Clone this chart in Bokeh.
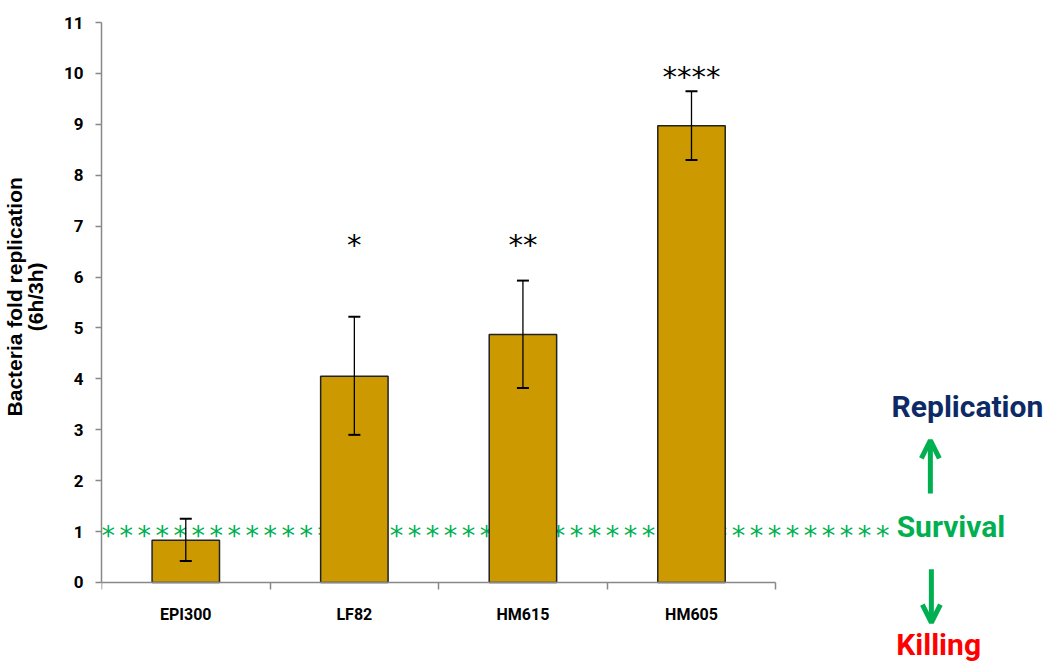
from bokeh.plotting import figure
from bokeh.models import (ColumnDataSource, Range1d, FixedTicker, Whisker, TeeHead,
                          Label, Arrow, OpenHead)
from bokeh.core.properties import value
from bokeh.embed import file_html
from bokeh.resources import INLINE

# ---- data ----
categories = ["EPI300", "LF82", "HM615", "HM605"]
fold_mean = [0.83, 4.05, 4.87, 8.97]
err_low = [0.42, 2.90, 3.82, 8.30]
err_high = [1.25, 5.22, 5.93, 9.65]
significance = ["", "*", "**", "****"]
sig_level = [0.0, 6.72, 6.72, 10.02]
y_ticks = list(range(0, 12))
survival_level = 1.0
n_survival_stars = 44

xs = [i + 0.5 for i in range(len(categories))]
src = ColumnDataSource(dict(x=xs, top=fold_mean, lower=err_low, upper=err_high,
                            sig=significance, sy=sig_level))

W, H = 1046, 664
p = figure(width=W, height=H, output_backend="svg", toolbar_location=None,
           x_range=Range1d(0, (W - 100) / 168.75),
           y_range=Range1d(-(H - 582) / 50.9, 11),
           min_border_left=100, min_border_top=22, min_border_bottom=0,
           min_border_right=0)
p.outline_line_color = None
p.xgrid.visible = False
p.ygrid.visible = False
p.background_fill_color = "white"
p.border_fill_color = "white"

# survival reference line (asterisks), drawn behind the bars
p.text(x=[0.0], y=[survival_level],
       text=["\u2006".join(["*"] * n_survival_stars)], text_align="left",
       text_baseline="alphabetic", text_font=value("DejaVu Sans"),
       text_font_size="27px", text_color="#00b050", y_offset=4)

# bars
p.vbar(x="x", top="top", width=0.4, source=src, fill_color="#cc9900",
       line_color="#222222", line_width=1.5)

# error bars
p.add_layout(Whisker(base="x", lower="lower", upper="upper", source=src,
                     level="overlay", line_color="black", line_width=1.3,
                     upper_head=TeeHead(size=12, line_color="black", line_width=2),
                     lower_head=TeeHead(size=12, line_color="black", line_width=2)))

# significance stars
p.text(x="x", y="sy", text="sig", source=src, text_align="center",
       text_baseline="alphabetic", text_font=value("DejaVu Sans"),
       text_font_size="29px", text_color="black", y_offset=5)

# side annotations
def side_label(x, y, txt, color, align):
    p.add_layout(Label(x=x, y=y, text=txt, text_align=align,
                       text_baseline="alphabetic", text_font="Roboto",
                       text_font_style="bold", text_font_size="30px",
                       text_color=color))

side_label(4.717, 1.10, "Survival", "#00b050", "left")
side_label(5.137, 3.456, "Replication", "#0d2a66", "center")
side_label(4.966, -1.215, "Killing", "#ff0000", "center")

p.add_layout(Arrow(x_start=4.917, y_start=1.75, x_end=4.917, y_end=2.79,
                   line_color="#00b050", line_width=5,
                   end=OpenHead(size=18, line_color="#00b050", line_width=5)))
p.add_layout(Arrow(x_start=4.923, y_start=0.26, x_end=4.923, y_end=-0.79,
                   line_color="#00b050", line_width=5,
                   end=OpenHead(size=18, line_color="#00b050", line_width=5)))

# x axis at y = 0
xa = p.xaxis[0]
xa.fixed_location = 0
xa.ticker = FixedTicker(ticks=xs, minor_ticks=[0, 1, 2, 3, 4])
xa.major_label_overrides = {x: c for x, c in zip(xs, categories)}
xa.bounds = (0, 4)
xa.axis_line_color = "#888888"
xa.axis_line_width = 1.5
xa.major_tick_out = 0
xa.major_tick_in = 0
xa.minor_tick_out = 7
xa.minor_tick_in = 0
xa.minor_tick_line_color = "#888888"
xa.minor_tick_line_width = 1.5
xa.major_label_standoff = 16
xa.major_label_text_font = "Roboto"
xa.major_label_text_font_style = "bold"
xa.major_label_text_font_size = "16px"
xa.major_label_text_color = "black"

# y axis
ya = p.yaxis[0]
ya.ticker = FixedTicker(ticks=y_ticks)
ya.bounds = (0, 11)
ya.axis_line_color = "#888888"
ya.axis_line_width = 1.5
ya.major_tick_line_color = "#888888"
ya.major_tick_line_width = 1.5
ya.major_tick_out = 6
ya.major_tick_in = 0
ya.minor_tick_out = 0
ya.minor_tick_in = 0
ya.major_label_standoff = 12
ya.major_label_text_font = "Roboto"
ya.major_label_text_font_style = "bold"
ya.major_label_text_font_size = "17px"
ya.major_label_text_color = "black"
pad = "\u00a0" * 16  # shifts the label up to the centre of the 0-11 span
ya.axis_label = pad + "Bacteria fold replication\n" + pad + "(6h/3h)"
ya.axis_label_text_font = "Liberation Sans"
ya.axis_label_text_font_style = "bold"
ya.axis_label_text_font_size = "21px"
ya.axis_label_text_line_height = 0.9
ya.axis_label_text_color = "black"
ya.axis_label_standoff = 14

open("out.html", "w").write(file_html(p, INLINE))
